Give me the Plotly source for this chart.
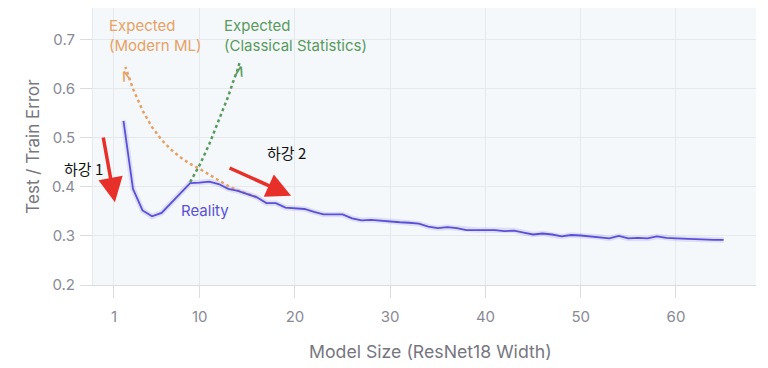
import plotly.graph_objects as go

# ---- data ----
widths = list(range(2, 66))
reality = [0.535, 0.396, 0.352, 0.340, 0.347, 0.367, 0.388, 0.408, 0.409, 0.411,
           0.406, 0.396, 0.392, 0.386, 0.379, 0.367, 0.367, 0.358, 0.357, 0.355,
           0.349, 0.344, 0.344, 0.344, 0.336, 0.332, 0.333, 0.331, 0.329, 0.328,
           0.327, 0.325, 0.319, 0.316, 0.318, 0.316, 0.312, 0.312, 0.312, 0.312,
           0.310, 0.311, 0.307, 0.303, 0.305, 0.303, 0.299, 0.302, 0.301, 0.299,
           0.298, 0.295, 0.300, 0.295, 0.296, 0.295, 0.299, 0.296, 0.295, 0.294,
           0.294, 0.293, 0.292, 0.292]

modern_x = [16, 15, 14, 13, 12, 11, 10, 9, 8, 7, 6, 5, 4, 3, 2.2]
modern_y = [0.379, 0.386, 0.393, 0.402, 0.413, 0.425, 0.437, 0.447, 0.460, 0.476,
            0.496, 0.522, 0.556, 0.600, 0.645]

classic_x = [9, 10, 11, 12, 13, 13.5, 14, 14.2]
classic_y = [0.410, 0.445, 0.487, 0.535, 0.585, 0.614, 0.640, 0.655]

x_ticks = [1, 10, 20, 30, 40, 50, 60]
y_ticks = [0.2, 0.3, 0.4, 0.5, 0.6, 0.7]

# red arrows: (tail_x, tail_y, tip_x, tip_y)
drop_arrows = [(-0.15, 0.504, 1.1, 0.369), (12.98, 0.440, 19.6, 0.382)]
# labels: (text, x, y, pixel x-shift)
drop_labels = [("하강 1", 0.0, 0.437, -21), ("하강 2", 19.1, 0.471, 0)]

PURPLE = "#5a50d6"
ORANGE = "#e6a264"
GREEN = "#5a9a5e"
RED = "#e8302a"
FONT = "Inter, Roboto, sans-serif"

fig = go.Figure()

# soft band under the reality line
fig.add_trace(go.Scatter(x=widths, y=reality, mode="lines",
                         line=dict(color="rgba(120,110,230,0.18)", width=5.5),
                         hoverinfo="skip", showlegend=False))
fig.add_trace(go.Scatter(x=modern_x, y=modern_y, mode="lines",
                         line=dict(color=ORANGE, width=2.5, dash="dot"),
                         showlegend=False))
fig.add_trace(go.Scatter(x=classic_x, y=classic_y, mode="lines",
                         line=dict(color=GREEN, width=2.5, dash="dot"),
                         showlegend=False))
fig.add_trace(go.Scatter(x=widths, y=reality, mode="lines",
                         line=dict(color=PURPLE, width=1.8),
                         showlegend=False))

# chevron arrow heads at curve ends
fig.add_annotation(x=modern_x[-1], y=modern_y[-1], text="∧", showarrow=False,
                   font=dict(family="DejaVu Sans", size=17, color=ORANGE),
                   textangle=-19, xanchor="center", yanchor="top", yshift=6)
fig.add_annotation(x=classic_x[-1], y=classic_y[-1], text="∧", showarrow=False,
                   font=dict(family="DejaVu Sans", size=17, color=GREEN),
                   textangle=14, xanchor="center", yanchor="top", yshift=6)

# labels
fig.add_annotation(x=0.27, y=0.752, text="Expected<br>(Modern ML)", showarrow=False,
                   xanchor="left", yanchor="top", align="left",
                   font=dict(family=FONT, size=15, color=ORANGE))
fig.add_annotation(x=12.39, y=0.752, text="Expected<br>(Classical Statistics)",
                   showarrow=False, xanchor="left", yanchor="top", align="left",
                   font=dict(family=FONT, size=15, color=GREEN))
fig.add_annotation(x=10.6, y=0.352, text="Reality", showarrow=False,
                   font=dict(family=FONT, size=15, color=PURPLE))

for (tx, ty, hx, hy) in drop_arrows:
    fig.add_annotation(x=hx, y=hy, ax=tx, ay=ty, axref="x", ayref="y",
                       xref="x", yref="y", text="", showarrow=True,
                       arrowhead=2, arrowsize=1.4, arrowwidth=3.5, arrowcolor=RED)
for (lab, lx, ly, sh) in drop_labels:
    fig.add_annotation(x=lx, y=ly, text=lab, showarrow=False, xshift=sh,
                       font=dict(family="Noto Sans CJK KR", size=15, color="#111111"))

# x-axis title (slightly right of centre, as in the original)
fig.add_annotation(xref="paper", yref="paper", x=0.5, y=0, xshift=6, yshift=-66,
                   text="Model Size (ResNet18 Width)", showarrow=False,
                   xanchor="center", yanchor="middle",
                   font=dict(family=FONT, size=17.7, color="#77777f"))

fig.update_layout(
    width=768, height=368,
    margin=dict(l=85, r=20, t=0, b=91),
    paper_bgcolor="white", plot_bgcolor="#f4f8fa",
    font=dict(family=FONT, color="#8a8a96"),
    xaxis=dict(range=[-1.2, 68.4], tickvals=x_ticks, ticks="outside", ticklen=12,
               tickcolor="#dcdcdc", showgrid=True, gridcolor="#e6e9ec", zeroline=False,
               showline=True, linecolor="#dcdcdc", linewidth=1,
               tickfont=dict(size=15, color="#8a8a96"), ticklabelstandoff=6,
               automargin=False),
    yaxis=dict(range=[0.2, 0.765], tickvals=y_ticks, tickformat=".1f", ticks="outside",
               ticklen=12, tickcolor="#dcdcdc", showgrid=True, gridcolor="#e6e9ec",
               zeroline=False, showline=True, linecolor="#e6e9ec", linewidth=1,
               tickfont=dict(size=15, color="#8a8a96"), ticklabelstandoff=2,
               title=dict(text="Test / Train Error", standoff=7,
                          font=dict(size=17, color="#77777f")),
               automargin=False),
)

fig.write_html("out.html")
